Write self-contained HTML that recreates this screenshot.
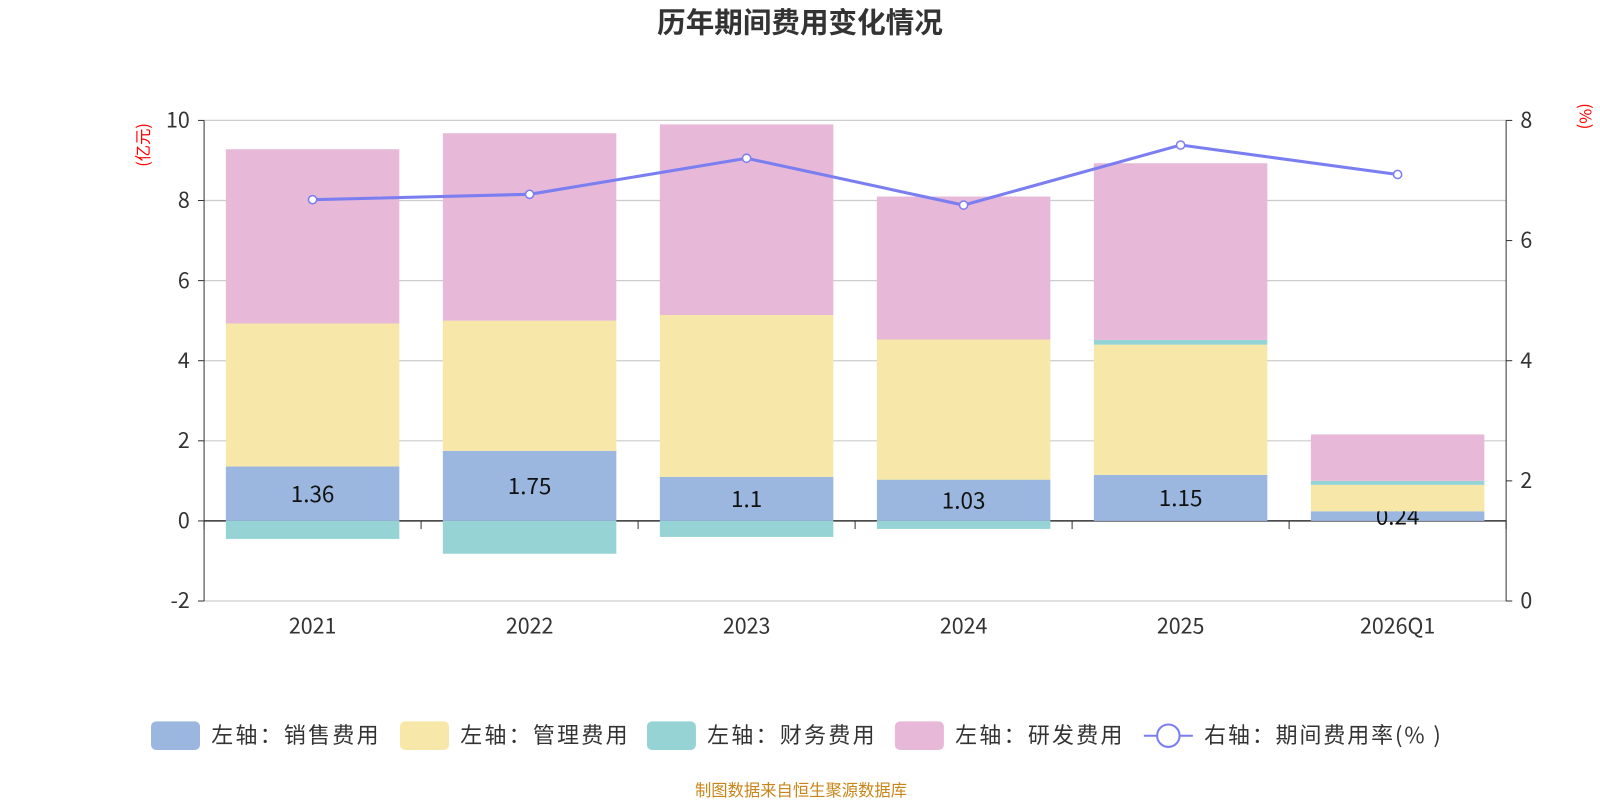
<!DOCTYPE html>
<html><head><meta charset="utf-8"><style>
body{margin:0;background:#fff;font-family:"Liberation Sans","Noto Sans CJK SC",sans-serif;}
svg text{font-family:"Noto Sans CJK SC","Liberation Sans",sans-serif;}
</style></head><body>
<svg id="c" width="1600" height="800" viewBox="0 0 1568 784" xmlns="http://www.w3.org/2000/svg"></svg>
<script>
const categories=["2021","2022","2023","2024","2025","2026Q1"];
const sales=[1.36,1.75,1.1,1.03,1.15,0.24];
const mgmt=[3.57,3.25,4.04,3.5,3.25,0.66];
const finance=[-0.45,-0.82,-0.4,-0.2,0.12,0.1];
const rnd=[4.35,4.68,4.76,3.57,4.41,1.16];
const rate=[6.68,6.77,7.37,6.59,7.59,7.1];
const leftTicks=[-2,0,2,4,6,8,10];
const rightTicks=[0,2,4,6,8];
const NS="http://www.w3.org/2000/svg";
const svg=document.getElementById('c');
const X0=200,X1=1476,Ytop=118,Ybot=589;
const yL=v=>Ybot-(v+2)/12*(Ybot-Ytop);
const yR=v=>Ybot-v/8*(Ybot-Ytop);
const band=(X1-X0)/categories.length;
const xC=i=>X0+band*(i+0.5);
const BW=170;
function el(t,a,txt){const e=document.createElementNS(NS,t);for(const k in a)e.setAttribute(k,a[k]);if(txt!==undefined)e.textContent=txt;svg.appendChild(e);return e;}
let t=el('text',{x:784,y:32,'text-anchor':'middle','font-size':28,'font-weight':'bold',fill:'#333'},'历年期间费用变化情况');


leftTicks.forEach(v=>{
 const g=el('line',{x1:X0,x2:X1,y1:yL(v),y2:yL(v),stroke:v===0?'#333':'#ccc','stroke-width':v===0?1.5:1.2});
 
 
 el('line',{x1:X0-6,x2:X0,y1:yL(v),y2:yL(v),stroke:'#333'});
 const l=el('text',{x:X0-14,y:yL(v)+7,'text-anchor':'end','font-size':21,fill:'#333'},String(v));
 
 
});
rightTicks.forEach(v=>{
 el('line',{x1:X1,x2:X1+6,y1:yR(v),y2:yR(v),stroke:'#333'});
 const l=el('text',{x:X1+14,y:yR(v)+7,'font-size':21,fill:'#333'},String(v));
 
 
});
el('line',{x1:X0,x2:X0,y1:Ytop,y2:Ybot,stroke:'#333'});
el('line',{x1:X1,x2:X1,y1:Ytop,y2:Ybot,stroke:'#333'});
for(let i=0;i<=categories.length;i++)el('line',{x1:X0+band*i,x2:X0+band*i,y1:yL(0),y2:yL(0)+8,stroke:'#333'});
let a=el('text',{transform:'translate(146,142) rotate(-90)','text-anchor':'middle','font-size':16,fill:'red'},'(亿元)');


a=el('text',{transform:'translate(1548,114) rotate(90)','text-anchor':'middle','font-size':16,fill:'red'},'(%)');


function rect(x,v0,v1,fill,name){const y0=yL(v0),y1=yL(v1);const r=el('rect',{x:x,y:Math.min(y0,y1),width:BW,height:Math.abs(y1-y0),fill:fill});
 
 return r;}
categories.forEach((c,i)=>{
 const x=xC(i)-BW/2;
 rect(x,0,sales[i],'#9bb7e0','bar-sales-'+c);
 const lb=el('text',{x:xC(i),y:(yL(0)+yL(sales[i]))/2+8,'text-anchor':'middle','font-size':22,fill:'#111'},String(sales[i]));
 
 
 let top=sales[i];
 rect(x,top,top+mgmt[i],'#f7e7a8','bar-mgmt-'+c);top+=mgmt[i];
 if(finance[i]>=0){rect(x,top,top+finance[i],'#96d3d4','bar-finance-'+c);top+=finance[i];}
 else rect(x,0,finance[i],'#96d3d4','bar-finance-'+c);
 rect(x,top,top+rnd[i],'#e7b8d8','bar-rnd-'+c);
 const xl=el('text',{x:xC(i),y:621,'text-anchor':'middle','font-size':21,fill:'#333'},c);
 
 
});
const pl=el('polyline',{points:rate.map((v,i)=>xC(i)+','+yR(v)).join(' '),fill:'none',stroke:'#7b7ef0','stroke-width':3});


rate.forEach((v,i)=>{const p=el('circle',{cx:xC(i),cy:yR(v),r:4,fill:'#fff',stroke:'#7b7ef0','stroke-width':1.5});
 
 });
const leg=[['#9bb7e0','左轴：销售费用',148],['#f7e7a8','左轴：管理费用',392],['#96d3d4','左轴：财务费用',634],['#e7b8d8','左轴：研发费用',877]];
leg.forEach(l=>{const r=el('rect',{x:l[2],y:707,width:48,height:28,rx:5,fill:l[0]});
 
 
 const tx=el('text',{x:l[2]+59,y:728,'font-size':21.5,fill:'#333',textLength:164,lengthAdjust:'spacing'},l[1]);
 
 });
el('line',{x1:1121,x2:1169,y1:721,y2:721,stroke:'#7b7ef0','stroke-width':2});
el('circle',{cx:1145,cy:721,r:11,fill:'#fff',stroke:'#7b7ef0','stroke-width':2});
let lt=el('text',{x:1180,y:728,'font-size':21.5,fill:'#333',textLength:232,lengthAdjust:'spacing'},'右轴：期间费用率(% )');


let f=el('text',{x:785,y:780,'text-anchor':'middle','font-size':16,fill:'#c8861a'},'制图数据来自恒生聚源数据库');


</script>
</body></html>
